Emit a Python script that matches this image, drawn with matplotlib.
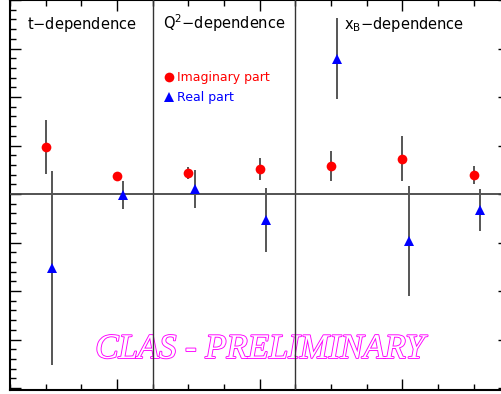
import matplotlib
matplotlib.use("Agg")
import matplotlib.pyplot as plt
import matplotlib.patheffects as pe
import numpy as np

# Data (x in bin units, 3 panels: t, Q^2, xB)
imag_x = [1, 3, 5, 7, 9, 11, 13]
imag_y = [0.97, 0.38, 0.43, 0.52, 0.57, 0.73, 0.39]
imag_err = [0.56, 0.08, 0.12, 0.23, 0.31, 0.46, 0.19]

real_x = [1.18, 3.18, 5.18, 7.18, 9.18, 11.18, 13.18]
real_y = [-1.53, -0.02, 0.10, -0.54, 2.79, -0.97, -0.33]
real_err = [2.0, 0.29, 0.39, 0.66, 0.84, 1.13, 0.44]

panel_titles = ["t$-$dependence", "Q$^{2}$$-$dependence", "x$_{\\mathrm{B}}$$-$dependence"]
title_x = [0.48, 4.29, 9.37]
dividers = [4, 8]

fig = plt.figure(figsize=(5.01, 3.94), dpi=100)
W, H = 501, 394
left_px, bottom_px, unit_x = 10, 390, 35.66
ax = fig.add_axes([left_px / W, (H - bottom_px) / H, 14 * unit_x / W, 390 / H])
ax.set_xlim(0, 14)
ax.set_ylim(-4.04, 4.0)

for d in dividers:
    ax.axvline(d, color='#333333', lw=1.0, zorder=3)
ax.axhline(0, color='#444444', lw=1.3, zorder=3)

ax.errorbar(imag_x, imag_y, yerr=imag_err, fmt='none', ecolor='#555555', elinewidth=1.4, capsize=0, zorder=4)
ax.errorbar(real_x, real_y, yerr=real_err, fmt='none', ecolor='#555555', elinewidth=1.4, capsize=0, zorder=4)
ax.plot(imag_x, imag_y, 'o', color='red', markersize=7, markeredgewidth=0, zorder=5)
ax.plot(real_x, real_y, '^', color='blue', markersize=7, markeredgewidth=0, zorder=5)

for tx, tt in zip(title_x, panel_titles):
    ax.text(tx, 3.40, tt, fontsize=10.5, color='black', va='baseline', ha='left', family='DejaVu Sans')

# legend
ax.plot([4.46], [2.41], 'o', color='red', markersize=7, markeredgewidth=0)
ax.plot([4.46], [2.0], '^', color='blue', markersize=7, markeredgewidth=0)
ax.text(4.68, 2.41, "Imaginary part", color='red', fontsize=9, va='center', ha='left')
ax.text(4.68, 2.0, "Real part", color='blue', fontsize=9, va='center', ha='left')

# watermark (hollow outlined text)
ax.text(7.02, -3.38, "CLAS - PRELIMINARY", fontsize=25, family='Liberation Serif', style='italic',
        color='white', ha='center', va='baseline', zorder=2,
        path_effects=[pe.Stroke(linewidth=1.3, foreground='#ff00ff'), pe.Normal()])

ax.set_xticks([3, 7, 11])
ax.set_xticks(np.arange(0, 15, 1), minor=True)
ax.set_yticks(np.arange(-4, 5, 1))
ax.set_yticks(np.arange(-4, 4.01, 0.2), minor=True)
ax.tick_params(which='both', direction='in', top=True, right=True, labelbottom=False, labelleft=False, width=1.0)
ax.tick_params(which='major', length=8)
ax.tick_params(which='minor', length=4)
for s in ax.spines.values():
    s.set_linewidth(1.5)
    s.set_color('black')

fig.savefig("out.png", dpi=100)
